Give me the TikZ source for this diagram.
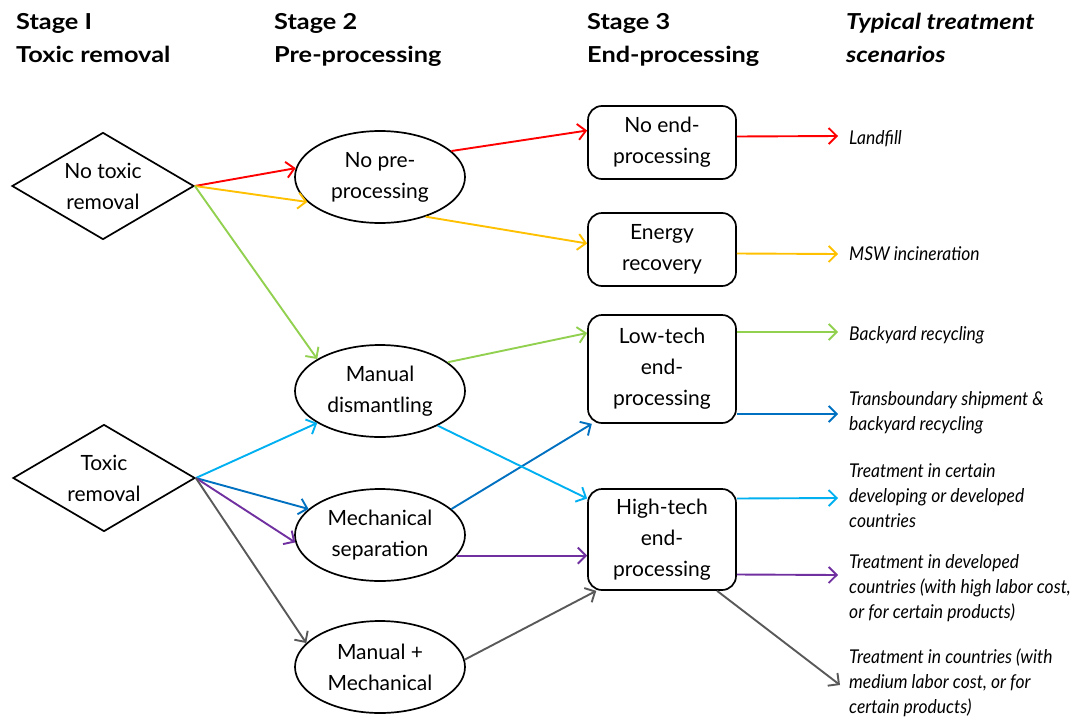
\documentclass[tikz,border=0pt]{standalone}
\usepackage{fontspec}
\setmainfont{Lato}
\newfontfamily\lblfont{Lato}[FakeStretch=0.92]
\newfontfamily\headfont{Lato}[FakeStretch=1.15]
\usetikzlibrary{shapes.geometric,arrows.meta}

\definecolor{cRed}{HTML}{FF0000}
\definecolor{cOrange}{HTML}{FFC000}
\definecolor{cGreen}{HTML}{92D050}
\definecolor{cCyan}{HTML}{00B0F0}
\definecolor{cBlue}{HTML}{0070C0}
\definecolor{cPurple}{HTML}{7030A0}
\definecolor{cGray}{HTML}{595959}

\begin{document}
\begin{tikzpicture}[x=1pt,y=-1pt,
  every node/.style={inner sep=0pt},
  nodetext/.style={align=center, font=\fontsize{21}{31}\selectfont},
  choice/.style={diamond, shape aspect=1.7, draw, line width=1.7pt,
    minimum width=182pt, minimum height=107pt, nodetext},
  proc/.style={ellipse, draw, line width=1.7pt,
    minimum width=170pt, minimum height=92pt, nodetext},
  endbox/.style={rectangle, rounded corners=14pt, draw, line width=1.7pt,
    minimum width=148pt, nodetext},
  head/.style={anchor=north west, align=left,
    font=\headfont\bfseries\fontsize{22}{33}\selectfont},
  lbl/.style={anchor=north west, align=left,
    font=\lblfont\itshape\fontsize{19}{25}\selectfont},
  flow/.style={line width=1.9pt,
    -{Straight Barb[length=8pt,width=16pt,line width=1.9pt]}},
]
\useasboundingbox (0,0) rectangle (1091,720);

% column headings
\node[head] (h1) at (16,13) {Stage I\\Toxic removal};
\node[head] (h2) at (274,13) {Stage 2\\Pre-processing};
\node[head] (h3) at (587,13) {Stage 3\\End-processing};
\node[head,font=\headfont\bfseries\itshape\fontsize{22}{33}\selectfont] (h4) at (846,13)
  {Typical treatment\\scenarios};

% stage 1
\node[choice] (d1) at (103,186) {No toxic\\removal};
\node[choice] (d2) at (104,478) {Toxic\\removal};

% stage 2
\node[proc] (e1) at (380,177) {No pre-\\processing};
\node[proc] (e2) at (380,391) {Manual\\dismantling};
\node[proc] (e3) at (380,535) {Mechanical\\separation};
\node[proc] (e4) at (380,667) {Manual +\\Mechanical};

% stage 3
\node[endbox, minimum height=73pt]  (b1) at (662,142.5) {No end-\\processing};
\node[endbox, minimum height=73pt]  (b2) at (662,249.5) {Energy\\recovery};
\node[endbox, minimum height=108pt] (b3) at (662,369)   {Low-tech\\end-\\processing};
\node[endbox, minimum height=101pt] (b4) at (662,539.5) {High-tech\\end-\\processing};

% treatment scenarios
\node[lbl] (s1) at (849,130) {Landfill};
\node[lbl] (s2) at (849,246) {MSW incineration};
\node[lbl] (s3) at (849,326) {Backyard recycling};
\node[lbl] (s4) at (849,391) {Transboundary shipment \&\\backyard recycling};
\node[lbl] (s5) at (849,463) {Treatment in certain\\developing or developed\\countries};
\node[lbl] (s6) at (849,554) {Treatment in developed\\countries (with high labor cost,\\or for certain products)};
\node[lbl] (s7) at (849,649) {Treatment in countries (with\\medium labor cost, or for\\certain products)};

% arrow ends in front of the scenarios
\coordinate (t1) at (838,136);
\coordinate (t2) at (838,254);
\coordinate (t3) at (838,332);
\coordinate (t4) at (838,414);
\coordinate (t5) at (838,498);
\coordinate (t6) at (838,575);
\coordinate (t7) at (840,685);

% landfill route
\draw[flow,cRed] (d1.east) -- (e1.174);
\draw[flow,cRed] (e1.20) -- ([yshift=12pt]b1.west);
\draw[flow,cRed] ([yshift=6pt]b1.east) -- (t1);

% incineration route
\draw[flow,cOrange] (d1.east) -- (e1.199);
\draw[flow,cOrange] (e1.319) -- ([yshift=6pt]b2.west);
\draw[flow,cOrange] ([yshift=-4pt]b2.east) -- (t2);

% backyard recycling route
\draw[flow,cGreen] (d1.east) -- (e2.153);
\draw[flow,cGreen] (e2.23) -- ([yshift=36pt]b3.west);
\draw[flow,cGreen] ([yshift=37pt]b3.east) -- (t3);

% transboundary shipment route
\draw[flow,cBlue] (d2.east) -- (e3.160);
\draw[flow,cBlue] (e3.20) -- (b3.218);
\draw[flow,cBlue] ([yshift=-45pt]b3.east) -- (t4);

% manual dismantling to high-tech
\draw[flow,cCyan] (d2.east) -- (e2.207);
\draw[flow,cCyan] (e2.329) -- ([yshift=41pt]b4.west);
\draw[flow,cCyan] ([yshift=41pt]b4.east) -- (t5);

% mechanical separation to high-tech
\draw[flow,cPurple] (d2.east) -- (e3.185);
\draw[flow,cPurple] (e3.-15) -- (e3.-15 -| b4.west);
\draw[flow,cPurple] ([yshift=-35pt]b4.east) -- (t6);

% combined processing to high-tech
\draw[flow,cGray] (d2.east) -- (e4.162);
\draw[flow,cGray] (e4.5) -- (b4.218);
\draw[flow,cGray] (b4.-43) -- (t7);
\end{tikzpicture}
\end{document}
